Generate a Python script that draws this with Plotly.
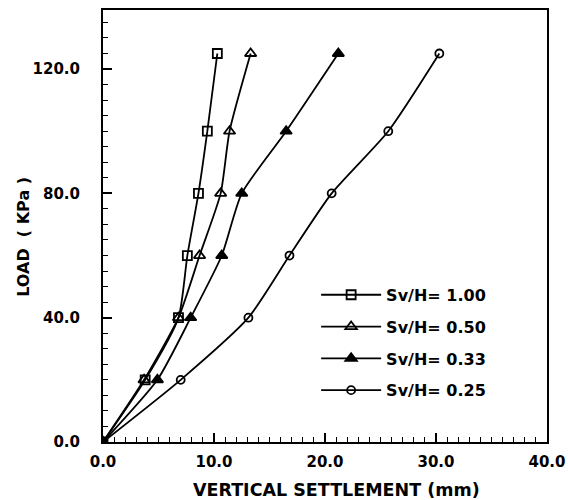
import plotly.graph_objects as go

load = [0, 20, 40, 60, 80, 100, 125]
settle_100 = [0, 3.8, 6.8, 7.6, 8.6, 9.4, 10.3]
settle_050 = [0, 3.7, 6.8, 8.7, 10.6, 11.4, 13.3]
settle_033 = [0, 4.9, 7.9, 10.7, 12.5, 16.5, 21.2]
settle_025 = [0, 7.0, 13.1, 16.8, 20.6, 25.7, 30.3]

names = ["<b>Sv/H= 1.00</b>", "<b>Sv/H= 0.50</b>", "<b>Sv/H= 0.33</b>", "<b>Sv/H= 0.25</b>"]
symbols = ["square-open", "triangle-up-open", "triangle-up", "circle-open"]
sizes = [9, 10, 10, 8]
series = [settle_100, settle_050, settle_033, settle_025]

x_ticks = [0, 10, 20, 30, 40]
x_labels = ["<b>0.0</b>", "<b>10.0</b>", "<b>20.0</b>", "<b>30.0</b>", "<b>40.0</b>"]
y_ticks = [0, 40, 80, 120]
y_labels = ["<b>0.0</b>", "<b>40.0</b>", "<b>80.0</b>", "<b>120.0</b>"]
x_title = "<b>VERTICAL SETTLEMENT (mm)</b>"
y_title = "<b>LOAD  ( KPa )</b>"

FONT = "DejaVu Sans"
fig = go.Figure()
for i, (nm, sym, sz, xs) in enumerate(zip(names, symbols, sizes, series)):
    fig.add_trace(go.Scatter(
        x=xs, y=load, name=nm, mode="lines+markers", legendgroup=str(i),
        line=dict(color="black", width=1.8, shape="spline", smoothing=0.6),
        marker=dict(symbol=sym, size=sz, color="black",
                    line=dict(color="black", width=1.8)),
    ))

fig.update_layout(
    width=568, height=500,
    margin=dict(l=103, r=21, t=10, b=58),
    paper_bgcolor="white", plot_bgcolor="white",
    font=dict(family=FONT, color="black", size=15),
    showlegend=True,
    legend=dict(x=0.48, y=0.38, xanchor="left", yanchor="top",
                bgcolor="rgba(0,0,0,0)", traceorder="grouped",
                tracegroupgap=8, itemwidth=60,
                font=dict(family=FONT, size=16, color="black")),
    annotations=[
        dict(text=x_title, xref="paper", yref="paper", x=0.527, y=-0.111,
             xanchor="center", yanchor="middle", showarrow=False,
             font=dict(size=17.5, family=FONT, color="black")),
        dict(text=y_title, xref="paper", yref="paper", x=-0.178, y=0.475,
             xanchor="center", yanchor="middle", showarrow=False, textangle=-90,
             font=dict(size=16, family=FONT, color="black")),
    ],
)
fig.update_xaxes(
    range=[0, 40], tickvals=x_ticks, ticktext=x_labels, automargin=False,
    ticks="inside", ticklen=9, tickwidth=1.5, tickcolor="black",
    showline=True, linecolor="black", linewidth=2, mirror=True,
    showgrid=False, zeroline=False,
    minor=dict(dtick=1, ticks="inside", ticklen=5, tickcolor="black", tickwidth=1),
    tickfont=dict(size=15, family=FONT), ticklabelstandoff=5,
)
fig.update_yaxes(
    range=[0, 139], tickvals=y_ticks, ticktext=y_labels, automargin=False,
    ticks="inside", ticklen=9, tickwidth=1.5, tickcolor="black",
    showline=True, linecolor="black", linewidth=2, mirror=True,
    showgrid=False, zeroline=False,
    minor=dict(dtick=5, ticks="inside", ticklen=5, tickcolor="black", tickwidth=1),
    tickfont=dict(size=15, family=FONT), ticklabelstandoff=18,
)
fig.write_html("out.html")
